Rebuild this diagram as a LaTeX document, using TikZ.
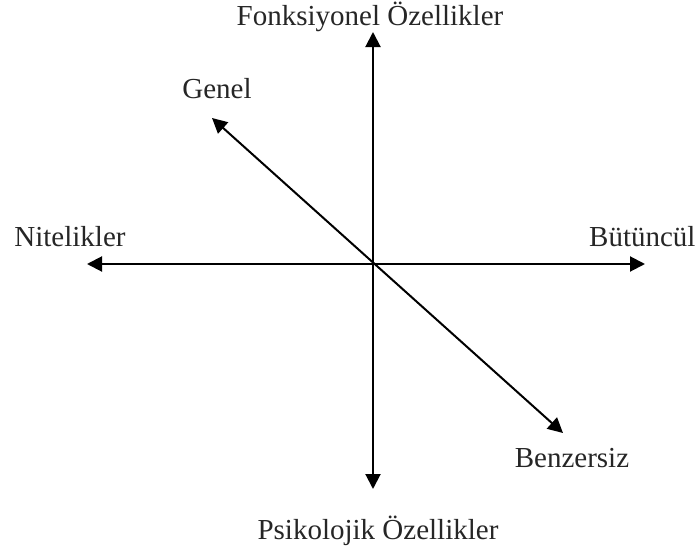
\documentclass[tikz,border=0pt]{standalone}
\usepackage{fontspec}
\setmainfont{Liberation Serif}
\usetikzlibrary{arrows.meta}
\begin{document}
\begin{tikzpicture}[x=1pt,y=-1pt,
  axis/.style={line width=2pt,{Triangle[length=15pt,width=15pt]}-{Triangle[length=15pt,width=15pt]}},
  lbl/.style={inner sep=0pt,font=\fontsize{29}{34}\selectfont,text=black!85}]
\useasboundingbox (0,0) rectangle (697,554);
\coordinate (up) at (373,32);
\coordinate (down) at (373,489);
\coordinate (left) at (87,264);
\coordinate (right) at (645,264);
\coordinate (nw) at (212,118);
\coordinate (se) at (563,433);
\draw[axis] (down) -- (up);
\draw[axis] (left) -- (right);
\draw[axis] (nw) -- (se);
\node[lbl,anchor=base] (fonk) at (370,26) {Fonksiyonel Özellikler};
\node[lbl,anchor=base] (genel) at (217,98) {Genel};
\node[lbl,anchor=base] (nit) at (70,246) {Nitelikler};
\node[lbl,anchor=base west] (but) at (589,246) {Bütüncül};
\node[lbl,anchor=base] (benz) at (572,467) {Benzersiz};
\node[lbl,anchor=base] (psi) at (378,539) {Psikolojik Özellikler};
\end{tikzpicture}
\end{document}
